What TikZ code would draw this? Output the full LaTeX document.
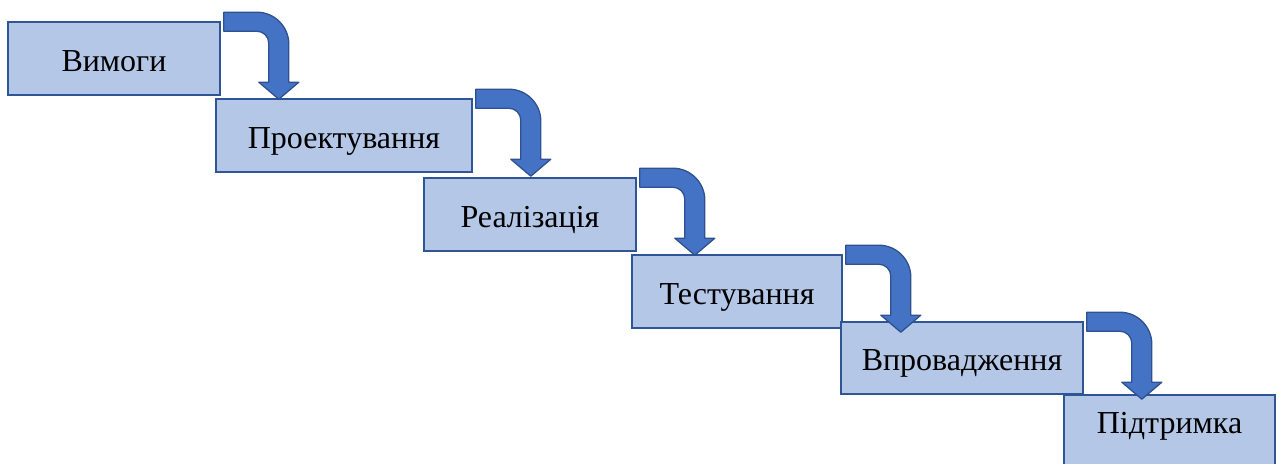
\documentclass[tikz,border=0pt]{standalone}
\usepackage{fontspec}
\setmainfont{Liberation Serif}
\usepackage{xcolor}

\definecolor{boxfill}{HTML}{B4C7E7}
\definecolor{boxline}{HTML}{2F5597}
\definecolor{arrowfill}{HTML}{4472C4}
\definecolor{arrowline}{HTML}{2F528F}

\tikzset{
  stage/.style={draw=boxline, fill=boxfill, line width=1.6pt, inner sep=0pt,
    minimum height=73pt, text height=30pt, text depth=5pt,
    font=\fontsize{32}{38}\selectfont},
  stagearrow/.style={draw=arrowline, fill=arrowfill, line width=1.3pt, line join=round}
}

% bent block arrow hanging off the top right corner of a stage
\newcommand{\stageArrow}[1]{%
  \draw[stagearrow, shift={(#1.north east)}]
    (3,9) -- (36,9) arc[start angle=90, end angle=0, radius=32]
    -- (68,-61) -- (78,-61) -- (58,-78) -- (38,-61) -- (48,-61)
    -- (48,-22) arc[start angle=0, end angle=90, radius=12]
    -- (3,-10) -- cycle;}

\begin{document}
\begin{tikzpicture}[x=1pt, y=1pt]
\clip (0,0) rectangle (1279,-463);

% stages
\node[stage, minimum width=212pt] (b1) at (114,-58.5) {Вимоги};
\node[stage, minimum width=256pt] (b2) at (344,-135.5) {Проектування};
\node[stage, minimum width=212pt] (b3) at (530,-214.5) {Реалізація};
\node[stage, minimum width=210pt] (b4) at (737,-291.5) {Тестування};
\node[stage, minimum width=242pt, minimum height=72pt] (b5) at (962,-358) {Впровадження};
\node[stage, minimum width=211pt, minimum height=86pt, text depth=40pt] (b6) at (1169.5,-438) {Підтримка};

% arrows b1->b2 ... b5->b6
\stageArrow{b1}
\stageArrow{b2}
\stageArrow{b3}
\stageArrow{b4}
\stageArrow{b5}

\end{tikzpicture}
\end{document}
